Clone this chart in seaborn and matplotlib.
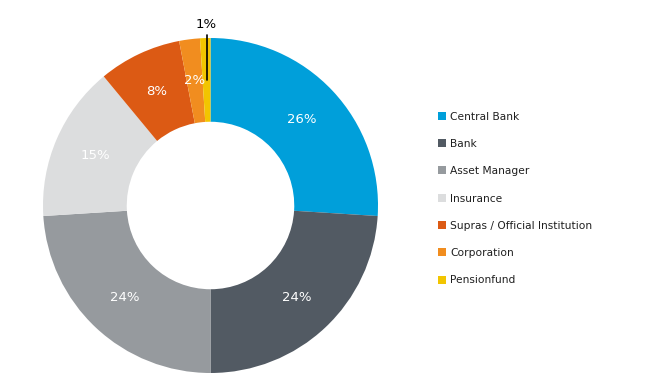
import numpy as np
import matplotlib
matplotlib.use("Agg")
import matplotlib.pyplot as plt
import seaborn as sns
from matplotlib.lines import Line2D

categories = ["Central Bank", "Bank", "Asset Manager", "Insurance",
              "Supras / Official Institution", "Corporation", "Pensionfund"]
values = [26, 24, 24, 15, 8, 2, 1]
colors = ["#009FDA", "#525A63", "#969A9E", "#DCDDDE", "#DC5A14", "#F18D1F", "#F2C500"]
labels = ["26%", "24%", "24%", "15%", "8%", "2%", "1%"]

sns.set_theme(style="white")
plt.rcParams['font.family'] = ['DejaVu Sans']

fig = plt.figure(figsize=(6.55, 3.9), dpi=100)
ax = fig.add_axes([43/655, 17/390, 335/655, 335/390])
wedges, _ = ax.pie(values, colors=colors, startangle=90, counterclock=False,
                   radius=1.0, wedgeprops=dict(width=0.5, linewidth=0))
ax.set_xlim(-1, 1)
ax.set_ylim(-1, 1)
ax.set_aspect('equal')
ax.axis('off')

total = float(sum(values))
cum = np.cumsum([0] + values)
for i, (v, lab) in enumerate(zip(values, labels)):
    mid = (cum[i] + v / 2) / total * 360.0
    theta = np.deg2rad(90 - mid)
    if i == len(values) - 1:
        x0, y0 = 0.75 * np.cos(theta), 0.75 * np.sin(theta)
        ax.plot([x0, x0], [y0, 1.02], color="black", lw=1.2, clip_on=False)
        ax.text(x0, 1.04, lab, ha="center", va="bottom", fontsize=9.5,
                color="black", clip_on=False)
    else:
        r = 0.75
        ax.text(r * np.cos(theta), r * np.sin(theta), lab, ha="center",
                va="center", fontsize=9.5, color="white")

handles = [Line2D([0], [0], marker='s', linestyle='none', markersize=5.5,
                  markerfacecolor=c, markeredgewidth=0) for c in colors]
leg = fig.legend(handles, categories, loc="center left",
                 bbox_to_anchor=(433/655, 1 - 198.5/390), frameon=False,
                 fontsize=7.7, handlelength=0.6, handletextpad=0.5,
                 labelspacing=1.62, borderpad=0)
for t in leg.get_texts():
    t.set_color("#1f1f1f")

fig.savefig("out.png", dpi=100)
